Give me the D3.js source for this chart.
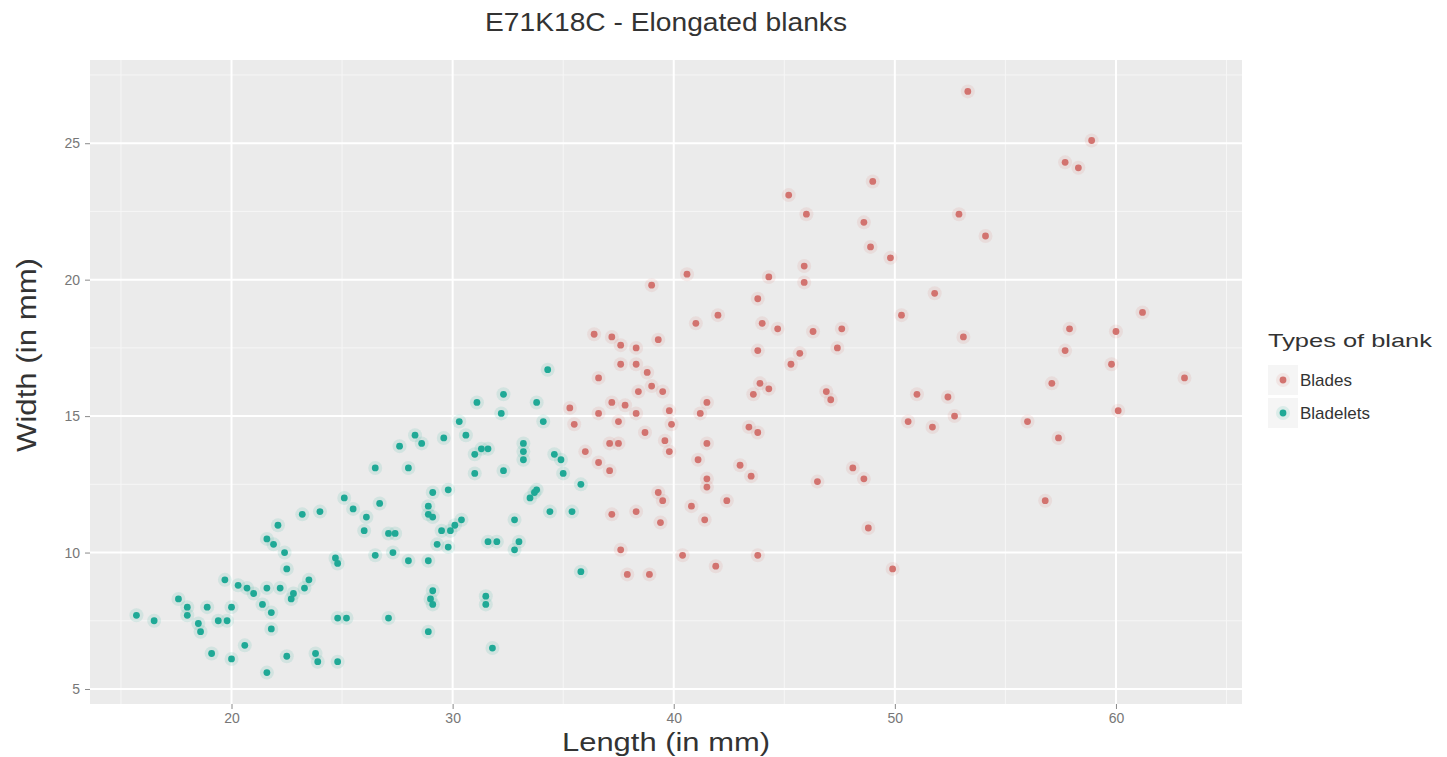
<!DOCTYPE html>
<html>
<head>
<meta charset="utf-8">
<script src="https://cdn.jsdelivr.net/npm/d3@7"></script>
<style>
  html, body { margin: 0; padding: 0; background: #ffffff; }
  svg { display: block; }
  text { font-family: "Liberation Sans", Arial, sans-serif; }
</style>
</head>
<body>
<svg id="chart" width="1447" height="757"></svg>
<script>
// Blank types shown in the legend
const categories = ["Blades", "Bladelets"];

// Blades: length and width in mm
const bladeLength = [53.3, 58.9, 57.7, 58.3, 49.0, 45.2, 46.0, 48.6, 52.9, 54.1,
  48.9, 49.8, 45.9, 45.9, 44.3, 40.6, 39.0, 43.8, 51.8, 50.3,
  61.2, 42.0, 41.0, 44.0, 44.7, 46.3, 47.6, 47.4, 57.9, 60.0,
  53.1, 57.7, 59.8, 63.1, 36.4, 37.2, 37.6, 39.3, 43.8, 45.7,
  45.3, 38.3, 37.6, 38.3, 38.8, 36.6, 39.5, 39.0, 38.4, 43.9,
  44.3, 43.6, 46.9, 47.1, 51.0, 52.4, 57.1, 41.5, 37.2, 37.8,
  35.3, 36.6, 37.5, 38.3, 39.8, 39.9, 41.2, 35.5, 38.7, 37.1,
  37.5, 39.6, 41.5, 43.4, 43.8, 50.6, 51.7, 52.7, 56.0, 57.4,
  60.1, 36.0, 36.6, 37.1, 39.8, 41.1, 41.5, 41.5, 43.0, 43.5,
  48.1, 48.6, 46.5, 42.4, 39.3, 39.5, 40.8, 41.4, 37.2, 38.3,
  39.4, 56.8, 48.8, 37.6, 40.4, 43.8, 41.9, 37.9, 38.9, 49.9];
const bladeWidth = [26.9, 25.1, 24.3, 24.1, 23.6, 23.1, 22.4, 22.1, 22.4, 21.6,
  21.2, 20.8, 20.5, 19.9, 20.1, 20.2, 19.8, 19.3, 19.5, 18.7,
  18.8, 18.7, 18.4, 18.4, 18.2, 18.1, 18.2, 17.5, 18.2, 18.1,
  17.9, 17.4, 16.9, 16.4, 18.0, 17.9, 17.6, 17.8, 17.4, 17.3,
  16.9, 17.5, 16.9, 16.9, 16.6, 16.4, 15.9, 16.1, 15.9, 16.2,
  16.0, 15.8, 15.9, 15.6, 15.8, 15.7, 16.2, 15.5, 15.5, 15.4,
  15.3, 15.1, 14.8, 15.1, 15.2, 14.7, 15.1, 14.7, 14.4, 14.0,
  14.0, 14.1, 14.0, 14.6, 14.4, 14.8, 14.6, 15.0, 14.8, 14.2,
  15.2, 13.7, 13.3, 13.0, 13.7, 13.4, 12.7, 12.4, 13.2, 12.8,
  13.1, 12.7, 12.6, 11.9, 12.2, 11.9, 11.7, 11.2, 11.4, 11.5,
  11.1, 11.9, 10.9, 10.1, 9.9, 9.9, 9.5, 9.2, 9.2, 9.4];

// Bladelets: length and width in mm
const bladeletLength = [34.3, 31.1, 32.3, 32.2, 33.8, 34.1, 30.3, 30.6, 29.6, 27.6,
  28.3, 28.6, 31.3, 31.6, 31.0, 33.2, 33.2, 33.2, 34.6, 34.9,
  32.3, 31.0, 35.0, 35.8, 26.5, 28.0, 33.7, 33.5, 33.8, 34.4,
  35.4, 29.1, 29.8, 25.1, 25.5, 26.7, 23.2, 24.0, 28.9, 28.9,
  29.1, 30.4, 30.1, 29.9, 26.1, 26.0, 29.5, 29.3, 29.8, 32.8,
  31.6, 32.0, 33.0, 32.8, 22.1, 21.6, 21.9, 27.1, 27.4, 22.4,
  22.5, 24.7, 24.8, 26.5, 27.3, 28.0, 28.9, 19.7, 20.3, 20.7,
  21.6, 22.2, 22.7, 22.8, 23.5, 23.3, 21.0, 21.4, 21.8, 21.8,
  17.6, 18.0, 18.0, 18.5, 18.6, 18.9, 19.4, 19.8, 20.0, 15.7,
  16.5, 29.1, 29.0, 29.1, 31.5, 31.5, 24.8, 25.2, 27.1, 28.9,
  35.8, 31.8, 19.1, 20.0, 20.6, 22.5, 21.6, 23.8, 23.9, 24.8];
const bladeletWidth = [16.7, 15.5, 15.8, 15.1, 15.5, 14.8, 14.8, 14.3, 14.2, 13.9,
  14.3, 14.0, 13.8, 13.8, 13.6, 14.0, 13.7, 13.4, 13.6, 13.4,
  13.0, 12.9, 12.9, 12.5, 13.1, 13.1, 12.2, 12.0, 12.3, 11.5,
  11.5, 12.2, 12.3, 12.0, 11.6, 11.8, 11.4, 11.5, 11.7, 11.4,
  11.3, 11.2, 11.0, 10.8, 11.3, 10.8, 10.8, 10.3, 10.2, 11.2,
  10.4, 10.4, 10.4, 10.1, 11.0, 10.5, 10.3, 10.7, 10.7, 10.0,
  9.4, 9.8, 9.6, 9.9, 10.0, 9.7, 9.7, 9.0, 8.8, 8.7,
  8.7, 8.7, 8.3, 8.5, 9.0, 8.7, 8.5, 8.1, 7.8, 7.2,
  8.3, 8.0, 7.7, 7.4, 7.1, 8.0, 7.5, 7.5, 8.0, 7.7,
  7.5, 8.6, 8.3, 8.1, 8.4, 8.1, 7.6, 7.6, 7.6, 7.1,
  9.3, 6.5, 6.3, 6.1, 6.6, 6.2, 5.6, 6.3, 6.0, 6.0];

// Axis ticks
const xTicks = [20, 30, 40, 50, 60];
const yTicks = [5, 10, 15, 20, 25];
const xMinor = [15, 25, 35, 45, 55, 65];
const yMinor = [7.5, 12.5, 17.5, 22.5, 27.5];

const colors = { "Blades": "#d2736f", "Bladelets": "#1fa996" };

const svg = d3.select("#chart");
const panel = { left: 90, right: 1242, top: 60, bottom: 704 };

const x = d3.scaleLinear().domain([13.6, 65.7]).range([panel.left, panel.right]);
const y = d3.scaleLinear().domain([4.45, 28.05]).range([panel.bottom, panel.top]);

// Panel background
svg.append("rect")
  .attr("x", panel.left).attr("y", panel.top)
  .attr("width", panel.right - panel.left)
  .attr("height", panel.bottom - panel.top)
  .attr("fill", "#ebebeb");

const grid = svg.append("g");
// Minor grid
grid.selectAll("line.xminor").data(xMinor).join("line")
  .attr("x1", d => x(d)).attr("x2", d => x(d))
  .attr("y1", panel.top).attr("y2", panel.bottom)
  .attr("stroke", "#f6f6f6").attr("stroke-width", 1);
grid.selectAll("line.yminor").data(yMinor).join("line")
  .attr("y1", d => y(d)).attr("y2", d => y(d))
  .attr("x1", panel.left).attr("x2", panel.right)
  .attr("stroke", "#f6f6f6").attr("stroke-width", 1);
// Major grid
grid.selectAll("line.xmajor").data(xTicks).join("line")
  .attr("x1", d => x(d)).attr("x2", d => x(d))
  .attr("y1", panel.top).attr("y2", panel.bottom)
  .attr("stroke", "#ffffff").attr("stroke-width", 2);
grid.selectAll("line.ymajor").data(yTicks).join("line")
  .attr("y1", d => y(d)).attr("y2", d => y(d))
  .attr("x1", panel.left).attr("x2", panel.right)
  .attr("stroke", "#ffffff").attr("stroke-width", 2);

// Axes
const xAxis = d3.axisBottom(x).tickValues(xTicks).tickSize(5).tickPadding(4);
const yAxis = d3.axisLeft(y).tickValues(yTicks).tickSize(5).tickPadding(5);

const gx = svg.append("g").attr("transform", `translate(0,${panel.bottom})`).call(xAxis);
const gy = svg.append("g").attr("transform", `translate(${panel.left},0)`).call(yAxis);
[gx, gy].forEach(g => {
  g.select(".domain").remove();
  g.selectAll(".tick line").attr("stroke", "#8a8a8a");
  g.selectAll(".tick text").attr("fill", "#777").attr("font-size", 14)
    .attr("font-family", "Liberation Sans, Arial, sans-serif");
});

// Points
const series = [
  { name: "Blades", xs: bladeLength, ys: bladeWidth },
  { name: "Bladelets", xs: bladeletLength, ys: bladeletWidth }
];
const pts = [];
series.forEach(s => s.xs.forEach((v, i) => pts.push({ name: s.name, len: v, wid: s.ys[i] })));

const halo = svg.append("g");
halo.selectAll("circle").data(pts).join("circle")
  .attr("cx", d => x(d.len)).attr("cy", d => y(d.wid))
  .attr("r", 7)
  .attr("fill", d => colors[d.name]).attr("opacity", 0.12);

const dots = svg.append("g");
dots.selectAll("circle").data(pts).join("circle")
  .attr("cx", d => x(d.len)).attr("cy", d => y(d.wid))
  .attr("r", 3.4)
  .attr("fill", d => colors[d.name]);

// Titles
svg.append("text")
  .attr("x", (panel.left + panel.right) / 2).attr("y", 31)
  .attr("text-anchor", "middle").attr("font-size", 26).attr("fill", "#333")
  .attr("textLength", 362).attr("lengthAdjust", "spacingAndGlyphs")
  .text("E71K18C - Elongated blanks");

svg.append("text")
  .attr("x", (panel.left + panel.right) / 2).attr("y", 751)
  .attr("text-anchor", "middle").attr("font-size", 26).attr("fill", "#333")
  .attr("textLength", 208).attr("lengthAdjust", "spacingAndGlyphs")
  .text("Length (in mm)");

svg.append("text")
  .attr("transform", "translate(36,355) rotate(-90)")
  .attr("text-anchor", "middle").attr("font-size", 27).attr("fill", "#333")
  .attr("textLength", 194).attr("lengthAdjust", "spacingAndGlyphs")
  .text("Width (in mm)");

// Legend
const legend = svg.append("g").attr("transform", "translate(1268,0)");
legend.append("text")
  .attr("x", 0).attr("y", 347).attr("font-size", 19).attr("fill", "#333")
  .attr("textLength", 164).attr("lengthAdjust", "spacingAndGlyphs")
  .text("Types of blank");

const keys = legend.selectAll("g.key").data(categories).join("g")
  .attr("transform", (d, i) => `translate(0,${365 + i * 33})`);
keys.append("rect")
  .attr("x", 0).attr("y", 0).attr("width", 30).attr("height", 30)
  .attr("fill", "#f5f5f5");
keys.append("circle").attr("cx", 15).attr("cy", 15).attr("r", 7)
  .attr("fill", d => colors[d]).attr("opacity", 0.12);
keys.append("circle").attr("cx", 15).attr("cy", 15).attr("r", 3.4)
  .attr("fill", d => colors[d]);
keys.append("text")
  .attr("x", 32).attr("y", 21).attr("font-size", 17).attr("fill", "#333")
  .text(d => d);
</script>
</body>
</html>
